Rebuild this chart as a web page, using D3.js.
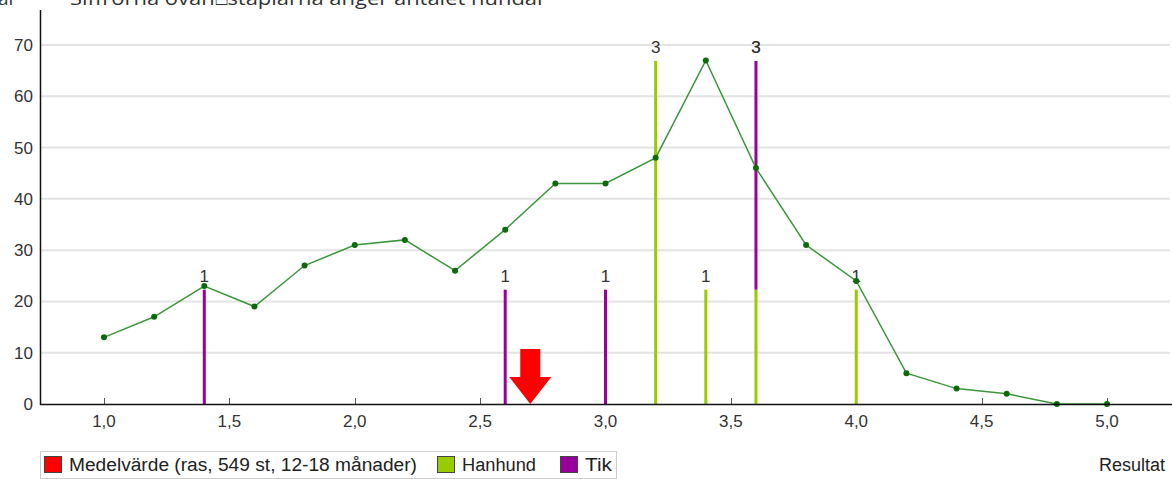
<!DOCTYPE html>
<html>
<head>
<meta charset="utf-8">
<script src="https://cdn.jsdelivr.net/npm/d3@7"></script>
<style>
  body { margin: 0; background: #fff; }
  svg { display: block; font-family: "Liberation Sans", Arial, sans-serif; }
</style>
</head>
<body>
<div id="chart"></div>
<script>
// Fördelning av resultat (linje) och antal hundar (staplar)
var resultX = [1.0, 1.2, 1.4, 1.6, 1.8, 2.0, 2.2, 2.4, 2.6, 2.8, 3.0, 3.2, 3.4, 3.6, 3.8, 4.0, 4.2, 4.4, 4.6, 4.8, 5.0];
var resultY = [13, 17, 23, 19, 27, 31, 32, 26, 34, 43, 43, 48, 67, 46, 31, 24, 6, 3, 2, 0, 0];

var hanhundX = [3.2, 3.4, 3.6, 4.0];
var hanhundN = [3, 1, 1, 1];
var tikX = [1.4, 2.6, 3.0, 3.6];
var tikN = [1, 1, 1, 2];

var medelvarde = 2.7;
var yTicks = [0, 10, 20, 30, 40, 50, 60, 70];
var xTicks = [1.0, 1.5, 2.0, 2.5, 3.0, 3.5, 4.0, 4.5, 5.0];

var legendItems = [
  ["Medelvärde (ras, 549 st, 12-18 månader)", "#ff0000"],
  ["Hanhund", "#99cc00"],
  ["Tik", "#990099"]
];
var titleText = "Siffrorna ovan\u2395staplarna anger antalet hundar";

var w = 1172, h = 479;
var svg = d3.select("#chart").append("svg")
  .attr("width", w)
  .attr("height", h);

var x = d3.scaleLinear().domain([0.75, 5.25]).range([41.3, 1169.7]);
var y = d3.scaleLinear().domain([0, 70]).range([404, 45]);
var yCount = d3.scaleLinear().domain([0, 3]).range([404, 61]); // staplarnas skala

// text upptill (beskuren i originalet)
svg.append("text").attr("x", -2).attr("y", 5).attr("font-size", 19)
  .attr("font-family", "Open Sans").attr("fill", "#333").text("ar");
svg.append("text").attr("x", 70).attr("y", 5).attr("font-size", 19)
  .attr("font-family", "Open Sans").attr("fill", "#333")
  .attr("textLength", 476).attr("lengthAdjust", "spacingAndGlyphs")
  .text(titleText);

// rutnät
svg.selectAll("line.grid")
  .data(yTicks.filter(function (d) { return d > 0; }))
  .enter().append("line")
  .attr("class", "grid")
  .attr("x1", 41).attr("x2", 1170)
  .attr("y1", function (d) { return y(d); })
  .attr("y2", function (d) { return y(d); })
  .attr("stroke", "#e3e3e3").attr("stroke-width", 2);

// y-etiketter
svg.selectAll("text.ytick")
  .data(yTicks)
  .enter().append("text")
  .attr("class", "ytick")
  .attr("x", 33)
  .attr("y", function (d) { return y(d) + 6; })
  .attr("text-anchor", "end")
  .attr("font-size", 17).attr("fill", "#333")
  .text(function (d) { return d; });

// x-tickmarkeringar och etiketter
svg.selectAll("line.xtick")
  .data(xTicks)
  .enter().append("line")
  .attr("class", "xtick")
  .attr("x1", function (d) { return Math.round(x(d)) + 0.5; })
  .attr("x2", function (d) { return Math.round(x(d)) + 0.5; })
  .attr("y1", 404).attr("y2", 398)
  .attr("stroke", "#555").attr("stroke-width", 1);

svg.selectAll("text.xtick")
  .data(xTicks)
  .enter().append("text")
  .attr("class", "xtick")
  .attr("x", function (d) { return x(d); })
  .attr("y", 427)
  .attr("text-anchor", "middle")
  .attr("font-size", 17).attr("fill", "#333")
  .text(function (d) { return d.toFixed(1).replace(".", ","); });

// staplar (staplade: hanhund underst, tik ovanpå)
var stacks = {};
function addBars(xs, ns, color) {
  var rows = xs.map(function (d, i) {
    var base = stacks[d] || 0;
    stacks[d] = base + ns[i];
    return { x: d, y0: base, y1: base + ns[i] };
  });
  svg.append("g").selectAll("rect")
    .data(rows)
    .enter().append("rect")
    .attr("x", function (d) { return x(d.x) - 1.5; })
    .attr("width", 3)
    .attr("y", function (d) { return yCount(d.y1); })
    .attr("height", function (d) { return yCount(d.y0) - yCount(d.y1); })
    .attr("fill", color);
  return rows;
}
var hRows = addBars(hanhundX, hanhundN, "#99cc00");
var tRows = addBars(tikX, tikN, "#990099");

// antal ovanför staplarna
svg.append("g").selectAll("text")
  .data(hRows.concat(tRows))
  .enter().append("text")
  .attr("x", function (d) { return x(d.x); })
  .attr("y", function (d) { return yCount(stacks[d.x]) - 8; })
  .attr("text-anchor", "middle")
  .attr("font-size", 17).attr("fill", "#333")
  .text(function (d) { return stacks[d.x]; });

// linje
var line = d3.line()
  .x(function (d) { return x(d[0]); })
  .y(function (d) { return y(d[1]); });
var pts = resultX.map(function (d, i) { return [d, resultY[i]]; });
svg.append("path")
  .datum(pts)
  .attr("d", line)
  .attr("fill", "none")
  .attr("stroke", "#3c963c").attr("stroke-width", 1.5);
svg.selectAll("circle.pt")
  .data(pts)
  .enter().append("circle")
  .attr("class", "pt")
  .attr("cx", function (d) { return x(d[0]); })
  .attr("cy", function (d) { return y(d[1]); })
  .attr("r", 3)
  .attr("fill", "#0b6b0b");

// axlar
svg.append("line").attr("x1", 40.5).attr("x2", 40.5).attr("y1", 10).attr("y2", 405)
  .attr("stroke", "#111").attr("stroke-width", 1.5);
svg.append("line").attr("x1", 40).attr("x2", 1172).attr("y1", 404.5).attr("y2", 404.5)
  .attr("stroke", "#111").attr("stroke-width", 1.5);

// medelvärdespil
var mx = x(medelvarde);
svg.append("path")
  .attr("d", "M" + (mx - 10) + ",349 L" + (mx + 10) + ",349 L" + (mx + 10) + ",377 L" + (mx + 21) + ",377 L" + mx + ",404 L" + (mx - 21) + ",377 L" + (mx - 10) + ",377 Z")
  .attr("fill", "#ff0000");

// förklaring
var lg = svg.append("g");
lg.append("rect").attr("x", 40.5).attr("y", 451.5).attr("width", 576).attr("height", 27)
  .attr("fill", "#fff").attr("stroke", "#ccc");
var lx = [44, 437, 560];
var tw = [348, 74, 27];
legendItems.forEach(function (d, i) {
  lg.append("rect").attr("x", lx[i] + 0.5).attr("y", 456.5).attr("width", 17).attr("height", 16)
    .attr("fill", d[1]).attr("stroke", "#444");
  lg.append("text").attr("x", lx[i] + 25).attr("y", 471)
    .attr("font-size", 18).attr("fill", "#222")
    .attr("textLength", tw[i]).attr("lengthAdjust", "spacingAndGlyphs")
    .text(d[0]);
});
svg.append("text").attr("x", 1165).attr("y", 471).attr("text-anchor", "end")
  .attr("font-size", 18).attr("fill", "#222").text("Resultat");
</script>
</body>
</html>
